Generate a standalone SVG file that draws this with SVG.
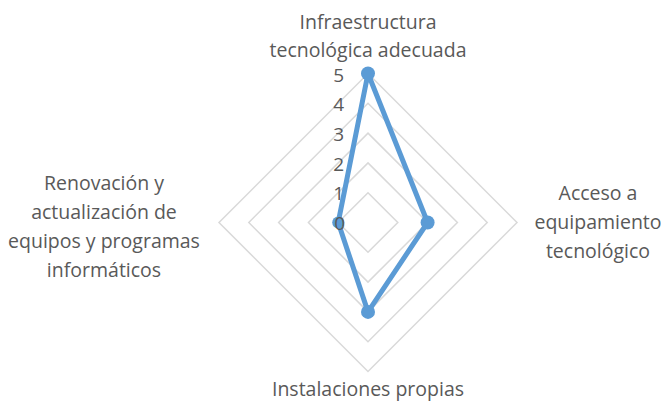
<svg xmlns="http://www.w3.org/2000/svg" width="661" height="403" viewBox="0 0 661 403">
<style>
.grid{fill:none;stroke:#d9d9d9;stroke-width:1.5}
.lbl{font-family:"Open Sans","Liberation Sans",sans-serif;font-size:19.5px;fill:#595959;text-anchor:middle}
.tick{font-family:"Open Sans","Liberation Sans",sans-serif;font-size:19px;fill:#595959;text-anchor:end}
.series{fill:none;stroke:#5b9bd5;stroke-width:5;stroke-linejoin:round}
.mk{fill:#5b9bd5}
</style>
<rect width="661" height="403" fill="#ffffff"/>
<g id="grid">
<polygon class="grid" points="368,192.7 397.8,222.5 368,252.3 338.2,222.5"/>
<polygon class="grid" points="368,162.9 427.6,222.5 368,282.1 308.4,222.5"/>
<polygon class="grid" points="368,133.1 457.4,222.5 368,311.9 278.6,222.5"/>
<polygon class="grid" points="368,103.3 487.2,222.5 368,341.7 248.8,222.5"/>
<polygon class="grid" points="368,73.5 517,222.5 368,371.5 219,222.5"/>
</g>
<g id="connectors">
<polygon class="series" points="368,73.5 427.6,222.5 368,311.9 338.2,222.5"/>
</g>
<g id="markers">
<circle class="mk" cx="368" cy="73.5" r="7"/>
<circle class="mk" cx="427.6" cy="222.5" r="7"/>
<circle class="mk" cx="368" cy="311.9" r="7"/>
<circle class="mk" cx="338.2" cy="222.5" r="6"/>
</g>
<g id="ticks">
<text class="tick" x="344" y="82">5</text>
<text class="tick" x="344" y="111">4</text>
<text class="tick" x="344" y="141">3</text>
<text class="tick" x="344" y="171">2</text>
<text class="tick" x="344" y="200">1</text>
<text class="tick" x="345" y="230">0</text>
</g>
<g id="node-top">
<text class="lbl" x="368" y="29">Infraestructura</text>
<text class="lbl" x="368" y="57">tecnológica adecuada</text>
</g>
<g id="node-right">
<text class="lbl" x="598" y="200">Acceso a</text>
<text class="lbl" x="598" y="229">equipamiento</text>
<text class="lbl" x="598" y="258">tecnológico</text>
</g>
<g id="node-bottom">
<text class="lbl" x="368" y="396">Instalaciones propias</text>
</g>
<g id="node-left">
<text class="lbl" x="104" y="190">Renovación y</text>
<text class="lbl" x="104" y="219">actualización de</text>
<text class="lbl" x="104" y="248">equipos y programas</text>
<text class="lbl" x="104" y="277">informáticos</text>
</g>
</svg>
